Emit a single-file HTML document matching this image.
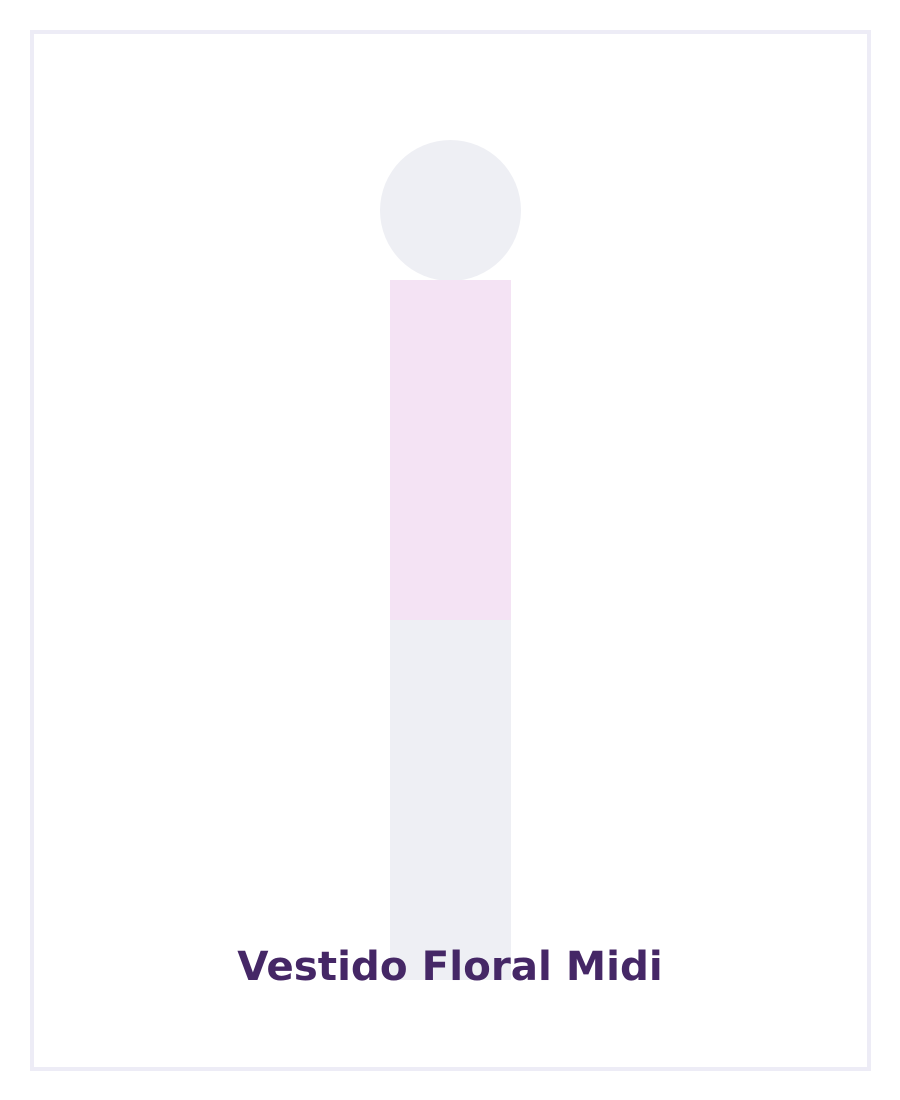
<!DOCTYPE html>
<html lang="es">
<head>
<meta charset="utf-8">
<title>Vestido Floral Midi</title>
<style>
html,body{margin:0;padding:0;background:#fff;width:900px;height:1100px;overflow:hidden}
svg{display:block}
</style>
</head>
<body>
<svg xmlns="http://www.w3.org/2000/svg" width="900" height="1100" viewBox="0 0 900 1100">
<rect x="0" y="0" width="900" height="1100" fill="#ffffff"/>
<rect x="32" y="32" width="837" height="1037" fill="#ffffff" stroke="#edecf6" stroke-width="4"/>
<circle cx="450.5" cy="210.5" r="70.5" fill="#eeeff4"/>
<rect x="390" y="620" width="121" height="360" fill="#eeeff4"/>
<rect x="390" y="280" width="121" height="340" fill="#f4e3f4"/>
<text x="450" y="980" text-anchor="middle" font-family="'DejaVu Sans',sans-serif" font-weight="700" font-size="40.4" fill="#452766">Vestido Floral Midi</text>
</svg>
</body>
</html>
